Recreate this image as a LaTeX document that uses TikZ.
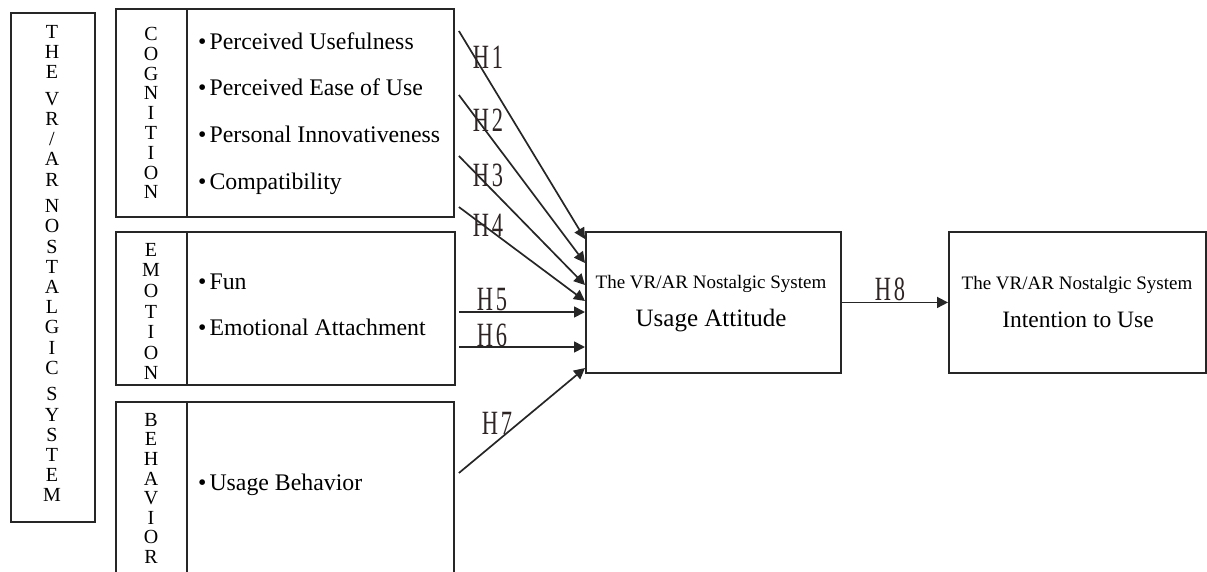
\documentclass[tikz,border=0pt]{standalone}
\usepackage{fontspec}
\setmainfont{Liberation Serif}
\usepackage{graphicx}
\usetikzlibrary{arrows.meta,calc}
\definecolor{linec}{HTML}{262626}
\definecolor{labc}{HTML}{2E2424}
\begin{document}
\begin{tikzpicture}[x=1pt,y=-1pt,
  box/.style={draw=linec,line width=1.9pt,inner sep=0pt,anchor=north west},
  vlet/.style={inner sep=0pt,anchor=north,align=center},
  item/.style={inner sep=0pt,anchor=base west,font=\fontsize{23.8}{26}\selectfont},
  small/.style={inner sep=0pt,anchor=base,font=\fontsize{19}{22}\selectfont},
  big/.style={inner sep=0pt,anchor=base},
  conn/.style={draw=linec,line width=1.7pt,-{Triangle[length=11pt,width=11pt]}},
  hlab/.style={inner sep=0pt,text=labc,font=\fontsize{34}{34}\selectfont}
]
\useasboundingbox (0,0) rectangle (1207,571);
\begin{scope}
\clip (0,0) rectangle (1207,571);
% outer left box
\node[box,minimum width=84pt,minimum height=509pt] (sys) at (10,12) {};
\node[vlet,font=\fontsize{20}{20.2}\selectfont] (systxt) at (52,25)
 {T\\H\\E\\[6.4pt]V\\R\\/\\A\\R\\[6.4pt]N\\O\\S\\T\\A\\L\\G\\I\\C\\[6.4pt]S\\Y\\S\\T\\E\\M};
% cognition
\node[box,minimum width=338pt,minimum height=208pt] (cog) at (115,8) {};
\draw[linec,line width=1.9pt] ($(cog.north west)+(72,0)$) -- ($(cog.south west)+(72,0)$);
\node[vlet,font=\fontsize{20}{19.8}\selectfont] (cogtxt) at (151,27) {C\\O\\G\\N\\I\\T\\I\\O\\N};
\node[item] (pu) at (198,49.5) {\textbullet\hspace{3pt}Perceived Usefulness};
\node[item] (peu) at (198,95.5) {\textbullet\hspace{3pt}Perceived Ease of Use};
\node[item] (pi) at (198,142.5) {\textbullet\hspace{3pt}Personal Innovativeness};
\node[item] (co) at (198,189.5) {\textbullet\hspace{3pt}Compatibility};
% emotion
\node[box,minimum width=339pt,minimum height=153pt] (emo) at (115,231) {};
\draw[linec,line width=1.9pt] ($(emo.north west)+(72,0)$) -- ($(emo.south west)+(72,0)$);
\node[vlet,font=\fontsize{20}{20.6}\selectfont] (emotxt) at (151,243) {E\\M\\O\\T\\I\\O\\N};
\node[item] (fun) at (198,289.5) {\textbullet\hspace{3pt}Fun};
\node[item] (ea) at (198,335.5) {\textbullet\hspace{3pt}Emotional Attachment};
% behavior
\node[box,minimum width=338pt,minimum height=200pt] (beh) at (115,401) {};
\draw[linec,line width=1.9pt] ($(beh.north west)+(72,0)$) -- ($(beh.south west)+(72,0)$);
\node[vlet,font=\fontsize{20}{19.6}\selectfont] (behtxt) at (151,413) {B\\E\\H\\A\\V\\I\\O\\R};
\node[item] (ub) at (198,490.5) {\textbullet\hspace{3pt}Usage Behavior};
% usage attitude
\node[box,minimum width=255pt,minimum height=141pt] (ua) at (585,231) {};
\node[small] (uat1) at (711,288.5) {The VR/AR Nostalgic System};
\node[big,font=\fontsize{25}{28}\selectfont] (uat2) at (711,326.5) {Usage Attitude};
% intention
\node[box,minimum width=257pt,minimum height=141pt] (iu) at (948,231) {};
\node[small] (iut1) at (1077,289.5) {The VR/AR Nostalgic System};
\node[big,font=\fontsize{23.5}{26}\selectfont] (iut2) at (1078,327.7) {Intention to Use};
% connector end points
\coordinate (s1) at ($(cog.north east)+(4,23)$);
\coordinate (s2) at ($(cog.north east)+(4,87)$);
\coordinate (s3) at ($(cog.north east)+(4,148)$);
\coordinate (s4) at ($(cog.north east)+(4,199)$);
\coordinate (s5) at ($(emo.north east)+(3,81)$);
\coordinate (s6) at ($(emo.north east)+(3,116)$);
\coordinate (s7) at ($(beh.north east)+(4,72)$);
\coordinate (e1) at ($(ua.north west)+(0,8)$);
\coordinate (e2) at ($(ua.north west)+(0,32)$);
\coordinate (e3) at ($(ua.north west)+(0,54)$);
\coordinate (e4) at ($(ua.north west)+(0,70)$);
\coordinate (e5) at ($(ua.north west)+(0,81)$);
\coordinate (e6) at ($(ua.north west)+(0,116)$);
\coordinate (e7) at ($(ua.north west)+(0,137)$);
\draw[conn] (s1) -- (e1);
\draw[conn] (s2) -- (e2);
\draw[conn] (s3) -- (e3);
\draw[conn] (s4) -- (e4);
\draw[conn] (s5) -- (e5);
\draw[conn] (s6) -- (e6);
\draw[conn] (s7) -- (e7);
\draw[conn] (ua.east) -- (iu.west);
% labels
\node[hlab] (h1) at (488,57) {\scalebox{0.66}[1]{H\hspace{4pt}1}};
\node[hlab] (h2) at (488,120) {\scalebox{0.66}[1]{H\hspace{4pt}2}};
\node[hlab] (h3) at (488,175) {\scalebox{0.66}[1]{H\hspace{4pt}3}};
\node[hlab] (h4) at (488,225) {\scalebox{0.66}[1]{H\hspace{4pt}4}};
\node[hlab] (h5) at (492,300) {\scalebox{0.66}[1]{H\hspace{4pt}5}};
\node[hlab] (h6) at (492,335) {\scalebox{0.66}[1]{H\hspace{4pt}6}};
\node[hlab] (h7) at (497,423) {\scalebox{0.66}[1]{H\hspace{4pt}7}};
\node[hlab] (h8) at (890,289) {\scalebox{0.66}[1]{H\hspace{4pt}8}};
\end{scope}
\end{tikzpicture}
\end{document}
